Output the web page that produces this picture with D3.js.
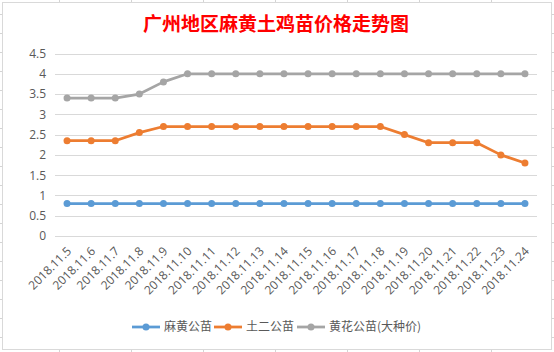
<!DOCTYPE html>
<html>
<head>
<meta charset="utf-8">
<script src="https://cdn.jsdelivr.net/npm/d3@7"></script>
<style>
  html, body { margin: 0; padding: 0; background: #fff; }
  svg { display: block; }
</style>
</head>
<body>
<div id="chart"></div>
<script>
// data
const dates = ["2018.11.5", "2018.11.6", "2018.11.7", "2018.11.8", "2018.11.9", "2018.11.10",
  "2018.11.11", "2018.11.12", "2018.11.13", "2018.11.14", "2018.11.15", "2018.11.16",
  "2018.11.17", "2018.11.18", "2018.11.19", "2018.11.20", "2018.11.21", "2018.11.22",
  "2018.11.23", "2018.11.24"];
const mahuang = [0.8, 0.8, 0.8, 0.8, 0.8, 0.8, 0.8, 0.8, 0.8, 0.8, 0.8, 0.8, 0.8, 0.8, 0.8, 0.8, 0.8, 0.8, 0.8, 0.8];
const tuer = [2.35, 2.35, 2.35, 2.55, 2.7, 2.7, 2.7, 2.7, 2.7, 2.7, 2.7, 2.7, 2.7, 2.7, 2.5, 2.3, 2.3, 2.3, 2.0, 1.8];
const huanghua = [3.4, 3.4, 3.4, 3.5, 3.8, 4, 4, 4, 4, 4, 4, 4, 4, 4, 4, 4, 4, 4, 4, 4];
const seriesNames = ["麻黄公苗", "土二公苗", "黄花公苗(大种价)"];
const yTicks = [0, 0.5, 1, 1.5, 2, 2.5, 3, 3.5, 4, 4.5];

const colors = ["#5B9BD5", "#ED7D31", "#A5A5A5"];
const series = [mahuang, tuer, huanghua];

const width = 554, height = 352;
const font = "'Open Sans', 'Noto Sans CJK SC', sans-serif";

const svg = d3.select("#chart").append("svg")
  .attr("width", width)
  .attr("height", height);

// spreadsheet cells behind the chart
const sheet = svg.append("g").attr("stroke", "#d4d4d4").attr("stroke-width", 1);
sheet.selectAll(".col").data(d3.range(59.5, width, 72)).enter().append("line")
  .attr("x1", d => d).attr("x2", d => d).attr("y1", 0).attr("y2", height);
sheet.selectAll(".row").data(d3.range(14.5, height, 19)).enter().append("line")
  .attr("x1", 0).attr("x2", width).attr("y1", d => d).attr("y2", d => d);

// chart box
svg.append("rect")
  .attr("x", 2.5).attr("y", 2.5)
  .attr("width", 549).attr("height", 347)
  .attr("fill", "#fff")
  .attr("stroke", "#d9d9d9");

// title
svg.append("text")
  .attr("x", 276).attr("y", 31)
  .attr("text-anchor", "middle")
  .style("font-family", "'Noto Sans CJK SC', sans-serif")
  .style("font-weight", "bold")
  .style("font-size", "19px")
  .attr("fill", "#FF0000")
  .text("广州地区麻黄土鸡苗价格走势图");

const x = d3.scalePoint()
  .domain(dates)
  .range([55, 537])
  .padding(0.5);

const y = d3.scaleLinear()
  .domain([0, 4.5])
  .range([236, 53.5]);

// gridlines
svg.append("g")
  .selectAll("line")
  .data(yTicks)
  .enter().append("line")
  .attr("x1", 55).attr("x2", 537)
  .attr("y1", d => Math.round(y(d)) + 0.5)
  .attr("y2", d => Math.round(y(d)) + 0.5)
  .attr("stroke", "#d9d9d9")
  .attr("stroke-width", 1);

// y labels
const yAxis = svg.append("g")
  .attr("transform", "translate(46,0)")
  .call(d3.axisLeft(y).tickValues(yTicks).tickSize(0).tickPadding(0).tickFormat(d3.format("")));
yAxis.select(".domain").remove();
yAxis.selectAll("text")
  .style("font-family", font)
  .style("font-size", "12px")
  .attr("fill", "#595959");

// x labels, rotated
svg.append("g")
  .selectAll("text")
  .data(dates)
  .enter().append("text")
  .attr("transform", d => "translate(" + (x(d) + 2) + ",249) rotate(-45)")
  .attr("text-anchor", "end")
  .attr("dy", "0.35em")
  .style("font-family", font)
  .style("font-size", "12px")
  .attr("fill", "#595959")
  .text(d => d);

// lines and markers
const line = d3.line()
  .x((d, i) => x(dates[i]))
  .y(d => y(d));

series.forEach((values, k) => {
  svg.append("path")
    .datum(values)
    .attr("d", line)
    .attr("fill", "none")
    .attr("stroke", colors[k])
    .attr("stroke-width", 2.75)
    .attr("stroke-linejoin", "round")
    .attr("stroke-linecap", "round");

  svg.append("g")
    .selectAll("circle")
    .data(values)
    .enter().append("circle")
    .attr("cx", (d, i) => x(dates[i]))
    .attr("cy", d => y(d))
    .attr("r", 3.5)
    .attr("fill", colors[k]);
});

// legend
const legendX = [132, 214, 297];
const legend = svg.append("g");
seriesNames.forEach((name, k) => {
  const g = legend.append("g").attr("transform", "translate(" + legendX[k] + ",327)");
  g.append("line")
    .attr("x1", 0).attr("x2", 28)
    .attr("stroke", colors[k])
    .attr("stroke-width", 2.75);
  g.append("circle")
    .attr("cx", 14).attr("r", 3.5)
    .attr("fill", colors[k]);
  g.append("text")
    .attr("x", 32).attr("dy", "0.35em")
    .style("font-family", "'Noto Sans CJK SC', sans-serif")
    .style("font-size", "12px")
    .attr("fill", "#595959")
    .text(name);
});
</script>
</body>
</html>
